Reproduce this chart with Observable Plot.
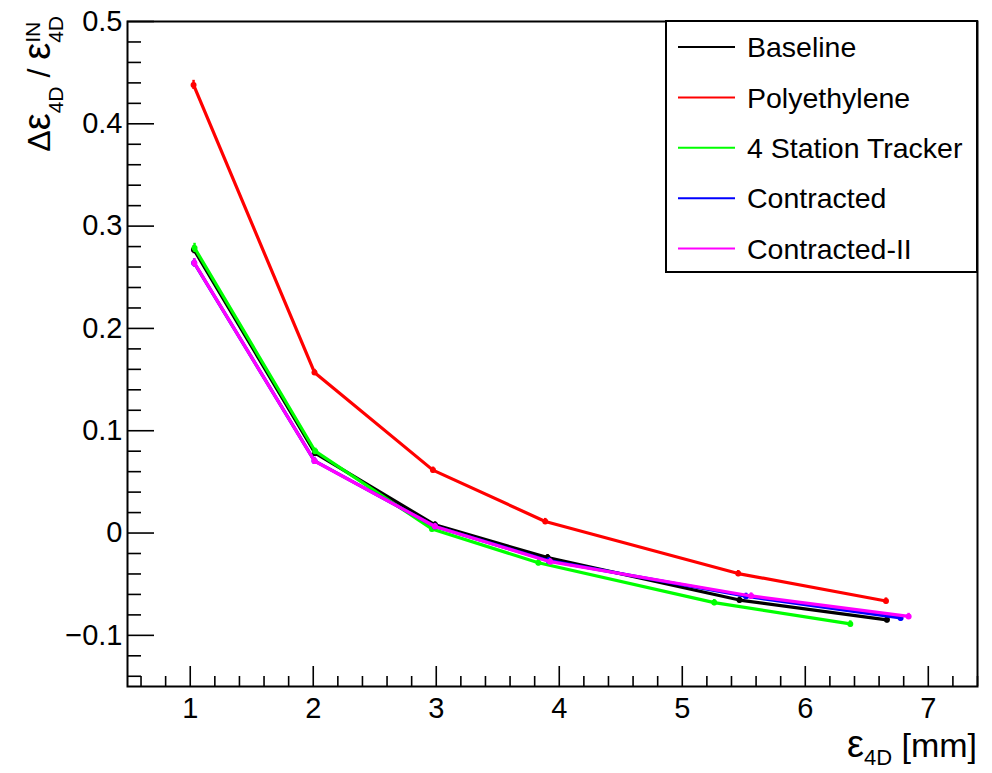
<!DOCTYPE html>
<html>
<head>
<meta charset="utf-8">
<script src="https://cdn.jsdelivr.net/npm/d3@7"></script>
<script src="https://cdn.jsdelivr.net/npm/@observablehq/plot@0.6"></script>
<style>
  html, body { margin: 0; padding: 0; background: #fff; }
  #chart svg { display: block; }
</style>
</head>
<body>
<div id="chart"></div>
<script>
// Emittance reduction vs. input 4D emittance for each cooling-channel configuration
const seriesNames = ["Baseline", "Polyethylene", "4 Station Tracker", "Contracted", "Contracted-II"];
const seriesColors = ["#000000", "#ff0000", "#00ff00", "#0000ff", "#ff00ff"];

const baselineX = [1.03, 2.015, 2.99, 3.905, 5.465, 6.664];
const baselineY = [0.277, 0.078, 0.008, -0.024, -0.0655, -0.0848];
const baselineErr = [0.004, 0.003, 0.003, 0.003, 0.003, 0.003];

const polyX = [1.027, 2.01, 2.973, 3.886, 5.455, 6.656];
const polyY = [0.438, 0.157, 0.0615, 0.0113, -0.0396, -0.0664];
const polyErr = [0.0045, 0.003, 0.003, 0.003, 0.003, 0.003];

const trackerX = [1.035, 2.016, 2.965, 3.83, 5.26, 6.366];
const trackerY = [0.2787, 0.080, 0.004, -0.029, -0.068, -0.0888];
const trackerErr = [0.0045, 0.003, 0.003, 0.003, 0.003, 0.003];

const contractedX = [1.032, 2.01, 2.99, 3.915, 5.518, 6.775];
const contractedY = [0.264, 0.0705, 0.0064, -0.027, -0.0618, -0.083];
const contractedErr = [0.004, 0.003, 0.003, 0.003, 0.003, 0.003];

const contracted2X = [1.033, 2.01, 2.99, 3.926, 5.56, 6.84];
const contracted2Y = [0.264, 0.0704, 0.0064, -0.028, -0.0615, -0.0815];
const contracted2Err = [0.004, 0.003, 0.003, 0.003, 0.003, 0.003];

const xTickLabels = [1, 2, 3, 4, 5, 6, 7];
const yTickLabels = [-0.1, 0, 0.1, 0.2, 0.3, 0.4, 0.5];

// Long-format table built from the series arrays
const seriesData = [
  [baselineX, baselineY, baselineErr],
  [polyX, polyY, polyErr],
  [trackerX, trackerY, trackerErr],
  [contractedX, contractedY, contractedErr],
  [contracted2X, contracted2Y, contracted2Err]
];
const rows = [];
seriesData.forEach(([xs, ys, es], i) => {
  xs.forEach((x, j) => rows.push({series: seriesNames[i], x, y: ys[j], e: es[j]}));
});

// Minor tick positions (ROOT-style subdivisions)
const notMajor = (v, step) => Math.abs(v / step - Math.round(v / step)) > 1e-6;
const xMinor = d3.range(0.6, 7.41, 0.2).filter(v => notMajor(v, 1));
const yMinor = d3.range(-0.14, 0.5, 0.02).filter(v => notMajor(v, 0.1));

const FONT = "'Liberation Sans', Arial, Helvetica, sans-serif";
const W = 992, H = 773;
const mL = 127, mR = 15, mT = 21, mB = 87;
const frameW = W - mL - mR, frameH = H - mT - mB;

const fmtY = d => d === 0 ? "0" : (d < 0 ? "\u2212" : "") + Math.abs(d).toString();

const marks = [];
// Lines, error bars and markers, drawn series by series in legend order
seriesNames.forEach((name, i) => {
  const data = rows.filter(r => r.series === name);
  const c = seriesColors[i];
  marks.push(Plot.line(data, {x: "x", y: "y", stroke: c, strokeWidth: 3.2}));
  marks.push(Plot.ruleX(data, {x: "x", y1: d => d.y - d.e, y2: d => d.y + d.e, stroke: c, strokeWidth: 2.5}));
  marks.push(Plot.dot(data, {x: "x", y: "y", r: 3, fill: c, stroke: "none"}));
});

const chart = Plot.plot({
  width: W,
  height: H,
  marginLeft: mL,
  marginRight: mR,
  marginTop: mT,
  marginBottom: mB,
  style: {fontFamily: FONT, background: "#fff", color: "#000"},
  x: {domain: [0.49, 7.4]},
  y: {domain: [-0.15, 0.5]},
  marks: [
    ...marks,
    // inward ticks along the bottom and left edges
    Plot.tickX(xTickLabels, {x: d => d, insetTop: frameH - 20, stroke: "#000", strokeWidth: 1.6}),
    Plot.tickX(xMinor, {x: d => d, insetTop: frameH - 10, stroke: "#000", strokeWidth: 1.6}),
    Plot.tickY(yTickLabels, {y: d => d, insetRight: frameW - 27, stroke: "#000", strokeWidth: 1.6}),
    Plot.tickY(yMinor, {y: d => d, insetRight: frameW - 14, stroke: "#000", strokeWidth: 1.6}),
    Plot.axisX({ticks: xTickLabels, tickSize: 0, tickPadding: 11, fontSize: 29, label: null, tickFormat: d => String(d)}),
    Plot.axisY({ticks: yTickLabels, tickSize: 0, tickPadding: 5, fontSize: 29, label: null, tickFormat: fmtY}),
    Plot.frame({stroke: "#000", strokeWidth: 2})
  ]
});

document.getElementById("chart").appendChild(chart);

const svg = d3.select(chart);

// Legend box in the upper-right corner of the frame
const leg = svg.append("g").attr("font-family", FONT).attr("text-anchor", "start");
leg.append("rect")
  .attr("x", 666).attr("y", 21).attr("width", 977 - 666).attr("height", 272 - 21)
  .attr("fill", "#fff").attr("stroke", "#000").attr("stroke-width", 2);
seriesNames.forEach((name, i) => {
  const cy = 47 + i * 50.4;
  leg.append("line")
    .attr("x1", 678).attr("x2", 735).attr("y1", cy).attr("y2", cy)
    .attr("stroke", seriesColors[i]).attr("stroke-width", 2);
  leg.append("text")
    .attr("x", 747).attr("y", cy).attr("dy", "0.36em")
    .attr("font-size", 28.5).attr("fill", "#000")
    .text(name);
});

// Y-axis title: Δε_{4D} / ε^{IN}_{4D}, rotated, flowing upward and ending near the top of the axis
const yt = svg.append("g")
  .attr("font-family", FONT)
  .attr("text-anchor", "start")
  .attr("fill", "#000")
  .attr("transform", "translate(50,0) rotate(-90)");
const yParts = [
  {t: "\u0394", size: 32, shift: 0},
  {t: "\u03b5", size: 38, shift: 0},
  {t: "4D", size: 21, shift: 13},
  {t: " / ", size: 32, shift: 0},
  {t: "\u03b5", size: 38, shift: 0},
  {t: "IN", size: 21, shift: -10, stack: true},
  {t: "4D", size: 21, shift: 13}
];
const yNodes = yParts.map(p => yt.append("text").attr("y", p.shift)
  .attr("font-size", p.size).style("white-space", "pre").text(p.t));
const widths = yNodes.map(n => n.node().getComputedTextLength());
let total = 0;
yParts.forEach((p, i) => { if (!p.stack) total += widths[i]; });
let cursor = -(16 + total);
yParts.forEach((p, i) => {
  yNodes[i].attr("x", cursor);
  if (!p.stack) cursor += widths[i];
});

// X-axis title: ε_{4D} [mm], right-aligned under the axis
const xt = svg.append("text")
  .attr("font-family", FONT).attr("fill", "#000")
  .attr("text-anchor", "end")
  .attr("x", 977).attr("y", 757)
  .style("white-space", "pre");
xt.append("tspan").attr("font-size", 38).text("\u03b5");
xt.append("tspan").attr("font-size", 22).attr("dy", 8).text("4D");
xt.append("tspan").attr("font-size", 34).attr("dy", -8).text(" [mm]");
</script>
</body>
</html>
